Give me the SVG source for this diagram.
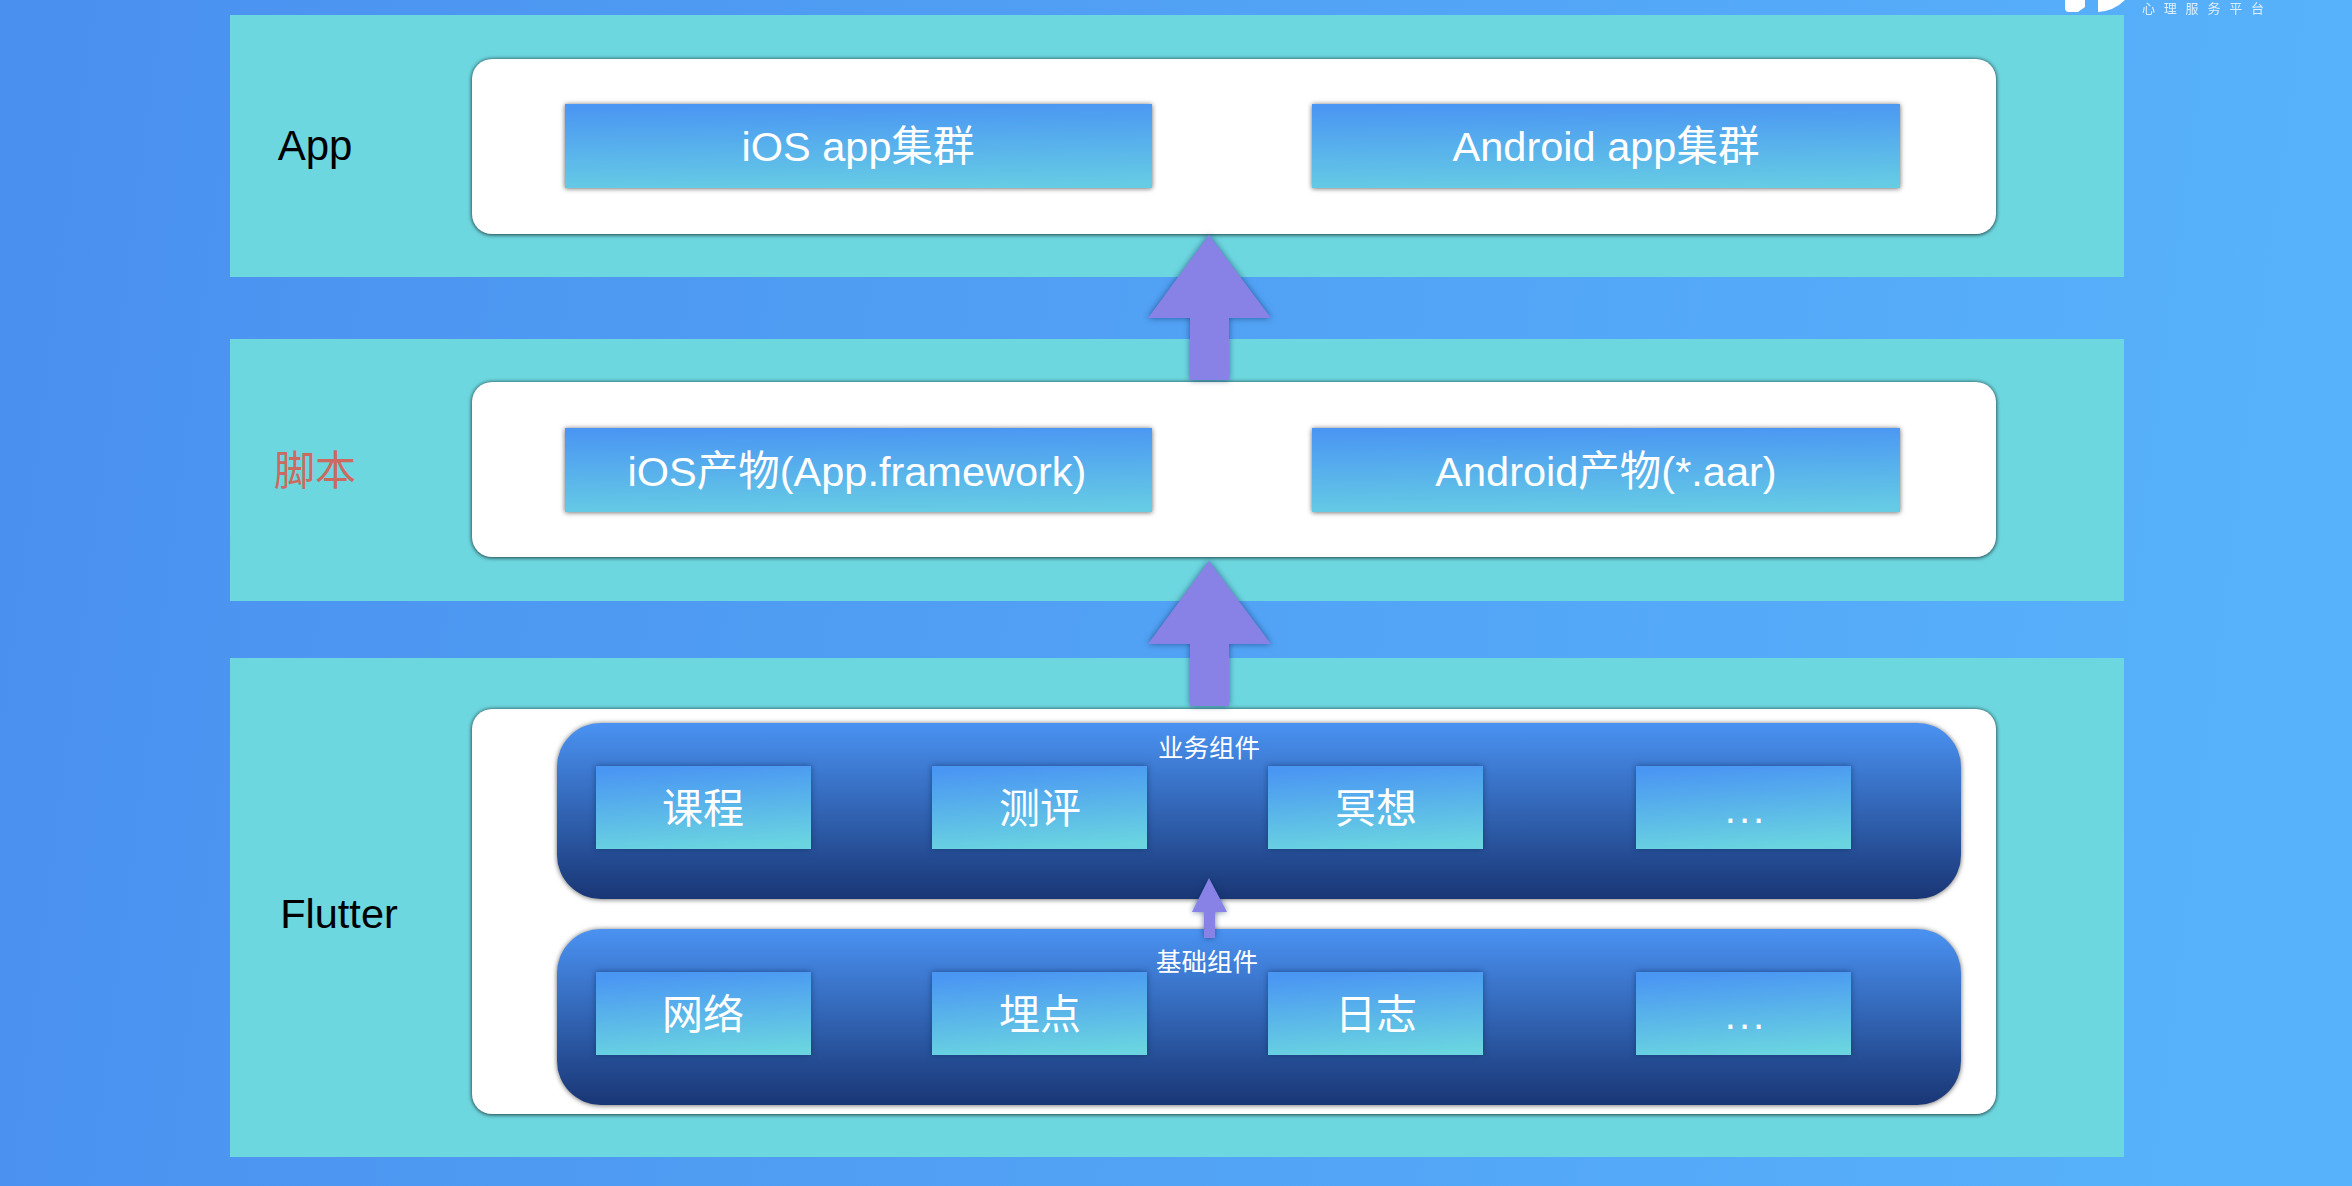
<svg xmlns="http://www.w3.org/2000/svg" width="2352" height="1186" viewBox="0 0 2352 1186">
<style>
text{font-family:"Liberation Sans","Noto Sans CJK SC",sans-serif;text-anchor:middle}
.w{fill:#fff}
.band{fill:#6DD7E0}
.panel{fill:#fff;filter:url(#s1)}
.big{fill:url(#g4);filter:url(#s2)}
.dark{fill:url(#g3);filter:url(#s2)}
.small{fill:url(#g2);filter:url(#s3)}
.arrow{fill:#8882E6;filter:url(#s3)}
.f42{font-size:41.5px}.f40{font-size:40px}.f25{font-size:25.5px}
</style>
<defs>
<linearGradient id="g1" gradientUnits="userSpaceOnUse" x1="0" y1="0" x2="2352" y2="300"><stop offset="0" stop-color="#4A90EF"/><stop offset="1" stop-color="#58B2FB"/></linearGradient>
<linearGradient id="g2" x1="0.42" y1="0" x2="0.58" y2="1"><stop offset="0" stop-color="#4A96F3"/><stop offset="1" stop-color="#6AD5E0"/></linearGradient>
<linearGradient id="g4" x1="0.46" y1="0" x2="0.54" y2="1"><stop offset="0" stop-color="#4A96F3"/><stop offset="1" stop-color="#66CCE4"/></linearGradient>
<linearGradient id="g3" x1="0" y1="0" x2="0" y2="1"><stop offset="0" stop-color="#4A92F2"/><stop offset="1" stop-color="#193675"/></linearGradient>
<filter id="s1" x="-5%" y="-10%" width="110%" height="120%" color-interpolation-filters="sRGB"><feDropShadow dx="0" dy="0.5" stdDeviation="2" flood-color="#000" flood-opacity="0.85"/></filter>
<filter id="s2" x="-5%" y="-10%" width="110%" height="120%" color-interpolation-filters="sRGB"><feDropShadow dx="0" dy="0.5" stdDeviation="2.5" flood-color="#000" flood-opacity="0.6"/></filter>
<filter id="s3" x="-10%" y="-10%" width="120%" height="120%" color-interpolation-filters="sRGB"><feDropShadow dx="0" dy="0" stdDeviation="3" flood-color="#0A2A5A" flood-opacity="0.6"/></filter>
</defs>
<rect width="2352" height="1186" fill="url(#g1)"/>
<g id="logo">
<path class="w" d="M2065 0H2085V7L2078 12H2069Q2065 12 2065 8Z"/>
<path class="w" d="M2098 0H2125Q2114 11 2098 12Z"/>
<text class="w" x="2142" y="13" font-size="13" letter-spacing="8.8" style="text-anchor:start;opacity:.8">心理服务平台</text>
</g>
<g id="layer-app">
<rect class="band" x="230" y="15" width="1894" height="262"/>
<text x="315" y="160" font-size="42">App</text>
<rect class="panel" x="472" y="59" width="1524" height="175" rx="20"/>
</g>
<g id="node-ios-app"><rect class="big" x="565" y="104" width="587" height="84"/><text class="w f42" x="858" y="161">iOS app集群</text></g>
<g id="node-android-app"><rect class="big" x="1312" y="104" width="588" height="84"/><text class="w f42" x="1606" y="161">Android app集群</text></g>
<g id="layer-script">
<rect class="band" x="230" y="339" width="1894" height="262"/>
<text x="315" y="485" font-size="41" fill="#CB6A5E">脚本</text>
<rect class="panel" x="472" y="382" width="1524" height="175" rx="20"/>
</g>
<g id="node-ios-framework"><rect class="big" x="565" y="428" width="587" height="84"/><text class="w f42" x="857" y="486">iOS产物(App.framework)</text></g>
<g id="node-android-aar"><rect class="big" x="1312" y="428" width="588" height="84"/><text class="w f42" x="1606" y="486">Android产物(*.aar)</text></g>
<g id="layer-flutter">
<rect class="band" x="230" y="658" width="1894" height="499"/>
<text x="339" y="928" font-size="41.5">Flutter</text>
<rect class="panel" x="472" y="709" width="1524" height="405" rx="20"/>
</g>
<g id="group-business"><rect class="dark" x="557" y="723" width="1404" height="176" rx="44"/><text class="w f25" x="1209" y="757">业务组件</text></g>
<g id="group-base"><rect class="dark" x="557" y="929" width="1404" height="176" rx="44"/><text class="w f25" x="1207" y="971">基础组件</text></g>
<g id="node-course"><rect class="small" x="596" y="766" width="215" height="83"/><text class="w" font-size="41" x="703" y="823">课程</text></g>
<g id="node-eval"><rect class="small" x="932" y="766" width="215" height="83"/><text class="w" font-size="41" x="1040" y="823">测评</text></g>
<g id="node-meditate"><rect class="small" x="1268" y="766" width="215" height="83"/><text class="w" font-size="41" x="1376" y="823">冥想</text></g>
<g id="node-more1"><rect class="small" x="1636" y="766" width="215" height="83"/><text class="w f40" x="1746" y="823" letter-spacing="3">...</text></g>
<g id="node-network"><rect class="small" x="596" y="972" width="215" height="83"/><text class="w" font-size="41" x="703" y="1029">网络</text></g>
<g id="node-track"><rect class="small" x="932" y="972" width="215" height="83"/><text class="w" font-size="41" x="1040" y="1029">埋点</text></g>
<g id="node-log"><rect class="small" x="1268" y="972" width="215" height="83"/><text class="w" font-size="41" x="1376" y="1029">日志</text></g>
<g id="node-more2"><rect class="small" x="1636" y="972" width="215" height="83"/><text class="w f40" x="1746" y="1029" letter-spacing="3">...</text></g>
<g id="connectors">
<path class="arrow" d="M1209 235L1271 318H1229V380H1190V318H1148Z"/>
<path class="arrow" d="M1209 561L1271 644H1229V706H1190V644H1148Z"/>
<path class="arrow" d="M1209 878L1227 912H1215V938H1204V912H1192Z"/>
</g>
</svg>
